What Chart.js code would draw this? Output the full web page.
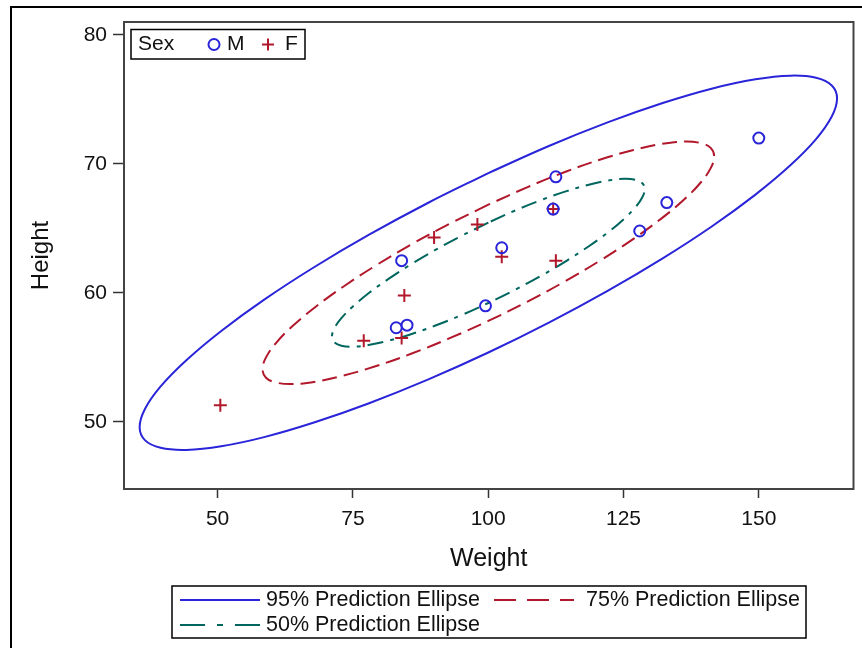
<!DOCTYPE html>
<html>
<head>
<meta charset="utf-8">
<title>Prediction Ellipses</title>
<script src="https://cdn.jsdelivr.net/npm/chart.js@4.4.1/dist/chart.umd.min.js"></script>
<style>
    html, body { margin: 0; padding: 0; background: #ffffff; }
    #contenedor { position: relative; width: 862px; height: 648px; }
</style>
</head>
<body>
<div id="contenedor">
    <canvas id="grafico_elipses" width="862" height="648" style="width:862px;height:648px;"></canvas>
</div>
<script>
// DATOS: PESO / ALTURA POR SEXO
var peso_m = [112.5, 102.5, 83.0, 84.0, 99.5, 150.0, 128.0, 133.0, 85.0, 112.0];
var altura_m = [69.0, 63.5, 57.3, 62.5, 59.0, 72.0, 64.8, 67.0, 57.5, 66.5];
var peso_f = [84.0, 98.0, 102.5, 84.5, 112.5, 50.5, 90.0, 77.0, 112.0];
var altura_f = [56.5, 65.3, 62.8, 59.8, 62.5, 51.3, 64.3, 56.3, 66.5];

// CONTORNOS DE LAS ELIPSES
var elipse95_peso = [100.03, 88.84, 77.99, 67.81, 58.61, 50.67, 44.22, 39.47, 36.57, 35.59, 36.56, 39.47, 44.22, 50.66, 58.60, 67.80, 77.99, 88.84, 100.02,
    111.21, 122.06, 132.24, 141.44, 149.38, 155.83, 160.58, 163.48, 164.46, 163.49, 160.58, 155.83, 149.39, 141.45, 132.25, 122.06, 111.21, 100.03];
var elipse95_altura = [69.29, 66.97, 64.51, 61.99, 59.48, 57.05, 54.78, 52.75, 51.00, 49.60, 48.59, 47.99, 47.83, 48.11, 48.82, 49.95, 51.45, 53.28, 55.38,
    57.70, 60.16, 62.68, 65.19, 67.62, 69.89, 71.92, 73.67, 75.07, 76.08, 76.68, 76.84, 76.56, 75.85, 74.72, 73.22, 71.39, 69.29];

var elipse75_peso = [100.03, 92.78, 85.76, 79.17, 73.21, 68.07, 63.90, 60.82, 58.94, 58.30, 58.94, 60.82, 63.89, 68.06, 73.20, 79.16, 85.75, 92.78, 100.02,
    107.27, 114.29, 120.88, 126.84, 131.98, 136.15, 139.23, 141.11, 141.75, 141.11, 139.23, 136.16, 131.99, 126.85, 120.89, 114.30, 107.27, 100.03];
var elipse75_altura = [66.84, 65.34, 63.75, 62.11, 60.48, 58.91, 57.45, 56.13, 55.00, 54.09, 53.43, 53.05, 52.94, 53.12, 53.59, 54.31, 55.28, 56.47, 57.83,
    59.33, 60.92, 62.56, 64.19, 65.76, 67.22, 68.54, 69.67, 70.58, 71.24, 71.62, 71.73, 71.55, 71.08, 70.36, 69.39, 68.20, 66.84];

var elipse50_peso = [100.03, 95.01, 90.14, 85.58, 81.45, 77.89, 75.00, 72.87, 71.57, 71.13, 71.57, 72.87, 75.00, 77.89, 81.45, 85.58, 90.14, 95.01, 100.02,
    105.04, 109.91, 114.47, 118.60, 122.16, 125.05, 127.18, 128.48, 128.92, 128.48, 127.18, 125.05, 122.16, 118.60, 114.47, 109.91, 105.04, 100.03];
var elipse50_altura = [65.45, 64.41, 63.31, 62.18, 61.05, 59.97, 58.95, 58.04, 57.25, 56.62, 56.17, 55.90, 55.83, 55.96, 56.28, 56.78, 57.45, 58.27, 59.22,
    60.26, 61.36, 62.49, 63.62, 64.70, 65.72, 66.63, 67.42, 68.05, 68.50, 68.77, 68.84, 68.71, 68.39, 67.89, 67.22, 66.40, 65.45];

// EJES Y LEYENDAS
var ticks_x = [50, 75, 100, 125, 150];
var ticks_y = [50, 60, 70, 80];
var titulo_x = 'Weight';
var titulo_y = 'Height';
var leyenda_sexo = ['Sex', 'M', 'F'];
var leyenda_elipses = ['95% Prediction Ellipse', '75% Prediction Ellipse', '50% Prediction Ellipse'];

var COLOR_AZUL = '#2A25D9';
var COLOR_ROJO = '#B2182B';
var COLOR_VERDE = '#01665E';
var FUENTE = '"Liberation Sans", Arial, sans-serif';

function Armar_Puntos(xs, ys) {
    var puntos = [];
    xs.forEach(function(x, i) {
        puntos.push({ x: x, y: ys[i] });
    });
    return puntos;
}

// MARCO Y LEYENDAS DIBUJADAS A MANO
var plugin_marco = {
    id: 'marco',
    beforeDraw: function(chart) {
        var ctx = chart.ctx;
        ctx.save();
        ctx.fillStyle = '#ffffff';
        ctx.fillRect(0, 0, chart.width, chart.height);
        ctx.strokeStyle = '#000000';
        ctx.lineWidth = 2;
        ctx.beginPath();
        ctx.moveTo(11, chart.height);
        ctx.lineTo(11, 7);
        ctx.lineTo(chart.width, 7);
        ctx.stroke();
        ctx.restore();
    },
    afterDraw: function(chart) {
        var ctx = chart.ctx;
        var area = chart.chartArea;
        ctx.save();

        // marco del area de datos
        ctx.strokeStyle = '#444444';
        ctx.lineWidth = 2;
        ctx.strokeRect(area.left, area.top, area.right - area.left, area.bottom - area.top);

        // leyenda Sex (dentro del area)
        var lx = area.left + 7, ly = area.top + 7.5;
        ctx.strokeStyle = '#000000';
        ctx.lineWidth = 1.5;
        ctx.strokeRect(lx, ly, 174, 29.5);
        ctx.font = '21px ' + FUENTE;
        ctx.fillStyle = '#111111';
        ctx.textBaseline = 'middle';
        ctx.textAlign = 'left';
        var cy = ly + 15;
        ctx.fillText(leyenda_sexo[0], lx + 7, cy);
        ctx.strokeStyle = COLOR_AZUL;
        ctx.lineWidth = 2;
        ctx.beginPath();
        ctx.arc(lx + 83, cy, 5.5, 0, Math.PI * 2);
        ctx.stroke();
        ctx.fillText(leyenda_sexo[1], lx + 96, cy);
        ctx.strokeStyle = COLOR_ROJO;
        ctx.beginPath();
        ctx.moveTo(lx + 131, cy); ctx.lineTo(lx + 143, cy);
        ctx.moveTo(lx + 137, cy - 6); ctx.lineTo(lx + 137, cy + 6);
        ctx.stroke();
        ctx.fillText(leyenda_sexo[2], lx + 154, cy);

        // leyenda de elipses (abajo)
        var bx = 172, by = 586;
        ctx.strokeStyle = '#000000';
        ctx.lineWidth = 1.5;
        ctx.strokeRect(bx, by, 634, 52);
        ctx.font = '21.5px ' + FUENTE;
        var filas = [
            { x: bx + 8, y: by + 14, color: COLOR_AZUL, dash: [], texto: leyenda_elipses[0], gap: 86 },
            { x: bx + 322, y: by + 14, color: COLOR_ROJO, dash: [22, 11], texto: leyenda_elipses[1], gap: 92 },
            { x: bx + 8, y: by + 39, color: COLOR_VERDE, dash: [25, 12, 6, 12], texto: leyenda_elipses[2], gap: 86 }
        ];
        filas.forEach(function(f) {
            ctx.strokeStyle = f.color;
            ctx.lineWidth = 2;
            ctx.setLineDash(f.dash);
            ctx.beginPath();
            ctx.moveTo(f.x, f.y);
            ctx.lineTo(f.x + 80, f.y);
            ctx.stroke();
            ctx.setLineDash([]);
            ctx.fillStyle = '#111111';
            ctx.fillText(f.texto, f.x + f.gap, f.y);
        });
        ctx.restore();
    }
};

// GRAFICO ELIPSES DE PREDICCION
function Cargar_Grafico_Elipses() {
    var ctx = document.getElementById('grafico_elipses').getContext('2d');
    new Chart(ctx, {
        type: 'scatter',
        data: {
            datasets: [
                {
                    label: 'M',
                    data: Armar_Puntos(peso_m, altura_m),
                    pointStyle: 'circle',
                    pointRadius: 5.5,
                    pointBorderWidth: 2,
                    borderColor: COLOR_AZUL,
                    backgroundColor: 'rgba(0,0,0,0)',
                    order: 0
                },
                {
                    label: 'F',
                    data: Armar_Puntos(peso_f, altura_f),
                    pointStyle: 'cross',
                    pointRadius: 6.5,
                    pointBorderWidth: 2,
                    borderColor: COLOR_ROJO,
                    backgroundColor: COLOR_ROJO,
                    order: 1
                },
                {
                    label: leyenda_elipses[2],
                    data: Armar_Puntos(elipse50_peso, elipse50_altura),
                    showLine: true,
                    pointRadius: 0,
                    borderColor: COLOR_VERDE,
                    borderWidth: 2,
                    borderDash: [16, 7, 4, 7],
                    tension: 0.4,
                    fill: false,
                    order: 2
                },
                {
                    label: leyenda_elipses[1],
                    data: Armar_Puntos(elipse75_peso, elipse75_altura),
                    showLine: true,
                    pointRadius: 0,
                    borderColor: COLOR_ROJO,
                    borderWidth: 2,
                    borderDash: [15, 7],
                    tension: 0.4,
                    fill: false,
                    order: 3
                },
                {
                    label: leyenda_elipses[0],
                    data: Armar_Puntos(elipse95_peso, elipse95_altura),
                    showLine: true,
                    pointRadius: 0,
                    borderColor: COLOR_AZUL,
                    borderWidth: 2,
                    tension: 0.4,
                    fill: false,
                    order: 4
                }
            ]
        },
        options: {
            responsive: false,
            animation: false,
            layout: {
                padding: { left: 0, right: 5, top: 22, bottom: 68 }
            },
            plugins: {
                legend: { display: false },
                tooltip: { enabled: false }
            },
            scales: {
                x: {
                    type: 'linear',
                    position: 'bottom',
                    min: 32.7,
                    max: 167.5,
                    afterBuildTicks: function(scale) {
                        scale.ticks = ticks_x.map(function(v) { return { value: v }; });
                    },
                    afterFit: function(scale) {
                        scale.height = 91;
                    },
                    border: { display: false },
                    grid: {
                        drawOnChartArea: false,
                        drawTicks: true,
                        tickLength: 9,
                        tickColor: '#333333',
                        tickWidth: 1.5
                    },
                    ticks: {
                        color: '#111111',
                        padding: 9,
                        maxRotation: 0,
                        font: { family: FUENTE, size: 21 }
                    },
                    title: {
                        display: true,
                        text: titulo_x,
                        color: '#111111',
                        padding: { top: 0, bottom: 6 },
                        font: { family: FUENTE, size: 25 }
                    }
                },
                y: {
                    type: 'linear',
                    position: 'left',
                    min: 44.8,
                    max: 81.0,
                    afterBuildTicks: function(scale) {
                        scale.ticks = ticks_y.map(function(v) { return { value: v }; });
                    },
                    afterFit: function(scale) {
                        scale.width = 124;
                    },
                    border: { display: false },
                    grid: {
                        drawOnChartArea: false,
                        drawTicks: true,
                        tickLength: 11,
                        tickColor: '#333333',
                        tickWidth: 1.5
                    },
                    ticks: {
                        color: '#111111',
                        padding: 6,
                        font: { family: FUENTE, size: 21 }
                    },
                    title: {
                        display: true,
                        text: titulo_y,
                        color: '#111111',
                        padding: { top: 27, bottom: 0 },
                        font: { family: FUENTE, size: 24 }
                    }
                }
            }
        },
        plugins: [plugin_marco]
    });
}

Cargar_Grafico_Elipses();
</script>
</body>
</html>
